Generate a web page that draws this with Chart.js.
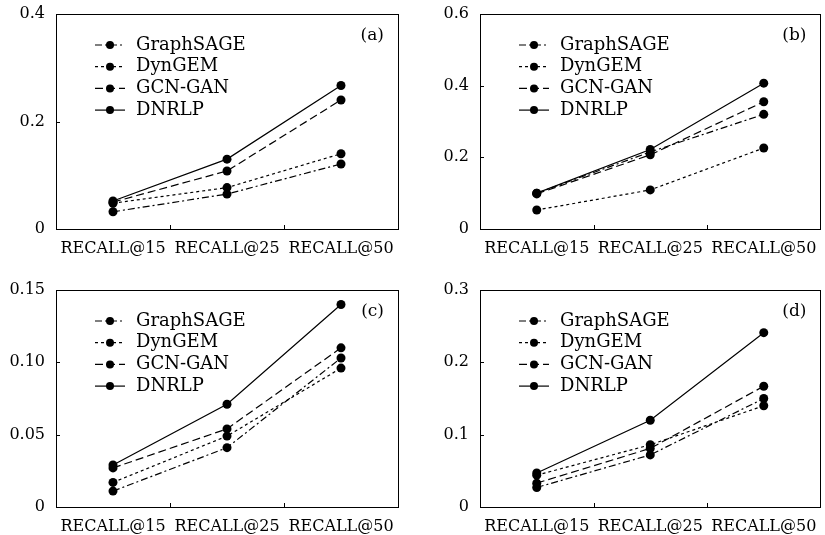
<!DOCTYPE html>
<html>
<head>
<meta charset="utf-8">
<script src="https://cdn.jsdelivr.net/npm/chart.js@4.4.1/dist/chart.umd.min.js"></script>
<style>
  body { margin: 0; background: #fff; }
  .panel { position: absolute; }
</style>
</head>
<body>
<canvas id="chartA" class="panel" width="412" height="265" style="left:0;top:0"></canvas>
<canvas id="chartB" class="panel" width="413" height="265" style="left:412px;top:0"></canvas>
<canvas id="chartC" class="panel" width="412" height="265" style="left:0;top:270px"></canvas>
<canvas id="chartD" class="panel" width="413" height="265" style="left:412px;top:270px"></canvas>
<script>
const categories = ['RECALL@15', 'RECALL@25', 'RECALL@50'];
const seriesNames = ['GraphSAGE', 'DynGEM', 'GCN-GAN', 'DNRLP'];

// (a)
const graphsageA = [0.032, 0.065, 0.121];
const dyngemA = [0.048, 0.077, 0.140];
const gcnganA = [0.050, 0.108, 0.240];
const dnrlpA = [0.052, 0.130, 0.267];
// (b)
const graphsageB = [0.100, 0.215, 0.320];
const dyngemB = [0.053, 0.109, 0.226];
const gcnganB = [0.098, 0.207, 0.355];
const dnrlpB = [0.100, 0.222, 0.407];
// (c)
const graphsageC = [0.011, 0.041, 0.103];
const dyngemC = [0.017, 0.049, 0.096];
const gcnganC = [0.027, 0.054, 0.110];
const dnrlpC = [0.029, 0.071, 0.140];
// (d)
const graphsageD = [0.027, 0.072, 0.150];
const dyngemD = [0.044, 0.086, 0.140];
const gcnganD = [0.033, 0.081, 0.167];
const dnrlpD = [0.047, 0.120, 0.241];

const dashes = [[7, 3, 2, 3], [3, 3], [8, 4], []];
const serif = '"DejaVu Serif", serif';

// short tick marks pointing into the plot
const innerTicks = {
  id: 'innerTicks',
  afterDraw(chart) {
    const { ctx, chartArea, scales } = chart;
    const len = 4;
    ctx.save();
    ctx.strokeStyle = '#000';
    ctx.lineWidth = 1;
    ctx.beginPath();
    for (let i = 0; i < categories.length - 1; i++) {
      const px = Math.round((scales.x.getPixelForValue(i) + scales.x.getPixelForValue(i + 1)) / 2) + 0.5;
      ctx.moveTo(px, chartArea.bottom);
      ctx.lineTo(px, chartArea.bottom - len);
    }
    scales.y.ticks.forEach(t => {
      const py = Math.round(scales.y.getPixelForValue(t.value)) + 0.5;
      ctx.moveTo(chartArea.left, py);
      ctx.lineTo(chartArea.left + len, py);
    });
    ctx.stroke();
    ctx.restore();
  }
};

// legend with line + marker, and the (a)/(b) tag
const lineLegend = {
  id: 'lineLegend',
  afterDraw(chart, args, opts) {
    const { ctx, chartArea } = chart;
    ctx.save();
    ctx.font = '18px ' + serif;
    ctx.fillStyle = '#000';
    ctx.strokeStyle = '#000';
    ctx.lineWidth = 1.2;
    ctx.textBaseline = 'middle';
    chart.data.datasets.forEach((ds, i) => {
      const x = chartArea.left + 39;
      const y = chartArea.top + 31 + i * 21.7;
      ctx.setLineDash(ds.borderDash);
      ctx.beginPath();
      ctx.moveTo(x, y);
      ctx.lineTo(x + 30, y);
      ctx.stroke();
      ctx.setLineDash([]);
      ctx.beginPath();
      ctx.arc(x + 15, y, 4, 0, Math.PI * 2);
      ctx.fill();
      ctx.fillText(ds.label, x + 41, y);
    });
    ctx.font = '17px ' + serif;
    ctx.textAlign = 'right';
    ctx.fillText(opts.tag, chartArea.right - 14, chartArea.top + 22);
    ctx.restore();
  }
};

function makePanel(id, values, yMax, yStep, decimals, tag, area) {
  const canvas = document.getElementById(id);
  const W = canvas.width, H = canvas.height;
  const datasets = seriesNames.map((name, i) => ({
    label: name,
    data: values[i],
    borderColor: '#000',
    backgroundColor: '#000',
    borderWidth: 1.2,
    borderDash: dashes[i],
    pointRadius: 4.5,
    pointBackgroundColor: '#000',
    pointBorderWidth: 0,
    fill: false,
    tension: 0
  }));
  new Chart(canvas, {
    type: 'line',
    data: { labels: categories, datasets: datasets },
    options: {
      responsive: false,
      animation: false,
      devicePixelRatio: 1,
      layout: { padding: { left: 0, top: area.top, right: W - area.right, bottom: 0 } },
      plugins: {
        legend: { display: false },
        tooltip: { enabled: false },
        lineLegend: { tag: tag }
      },
      scales: {
        x: {
          type: 'category',
          offset: true,
          grid: { offset: true, drawOnChartArea: false, drawTicks: false },
          border: { color: '#000', width: 1 },
          ticks: { color: '#000', padding: 10, maxRotation: 0, autoSkip: false, font: { family: serif, size: 16 } },
          afterFit: s => { s.height = H - area.bottom; s.paddingLeft = 0; s.paddingRight = 0; }
        },
        y: {
          min: 0,
          max: yMax,
          grid: { drawOnChartArea: false, drawTicks: false },
          border: { color: '#000', width: 1 },
          ticks: {
            stepSize: yStep,
            color: '#000',
            padding: 11,
            font: { family: serif, size: 16 },
            callback: v => (Math.abs(v) < 1e-9 ? '0' : v.toFixed(decimals))
          },
          afterFit: s => { s.width = area.left; s.paddingTop = 0; s.paddingBottom = 0; }
        },
        xTop: {
          type: 'linear',
          position: 'top',
          grid: { drawOnChartArea: false, drawTicks: false },
          border: { color: '#000', width: 1 },
          ticks: { display: false },
          afterFit: s => { s.height = 0; s.paddingLeft = 0; s.paddingRight = 0; }
        },
        yRight: {
          type: 'linear',
          position: 'right',
          grid: { drawOnChartArea: false, drawTicks: false },
          border: { color: '#000', width: 1 },
          ticks: { display: false },
          afterFit: s => { s.width = 0; s.paddingTop = 0; s.paddingBottom = 0; }
        }
      }
    },
    plugins: [innerTicks, lineLegend]
  });
}

makePanel('chartA', [graphsageA, dyngemA, gcnganA, dnrlpA], 0.4, 0.2, 1, '(a)', { left: 56, top: 14, right: 398, bottom: 229 });
makePanel('chartB', [graphsageB, dyngemB, gcnganB, dnrlpB], 0.6, 0.2, 1, '(b)', { left: 68, top: 14, right: 410, bottom: 229 });
makePanel('chartC', [graphsageC, dyngemC, gcnganC, dnrlpC], 0.15, 0.05, 2, '(c)', { left: 56, top: 20, right: 398, bottom: 237 });
makePanel('chartD', [graphsageD, dyngemD, gcnganD, dnrlpD], 0.3, 0.1, 1, '(d)', { left: 68, top: 20, right: 410, bottom: 237 });
</script>
</body>
</html>
